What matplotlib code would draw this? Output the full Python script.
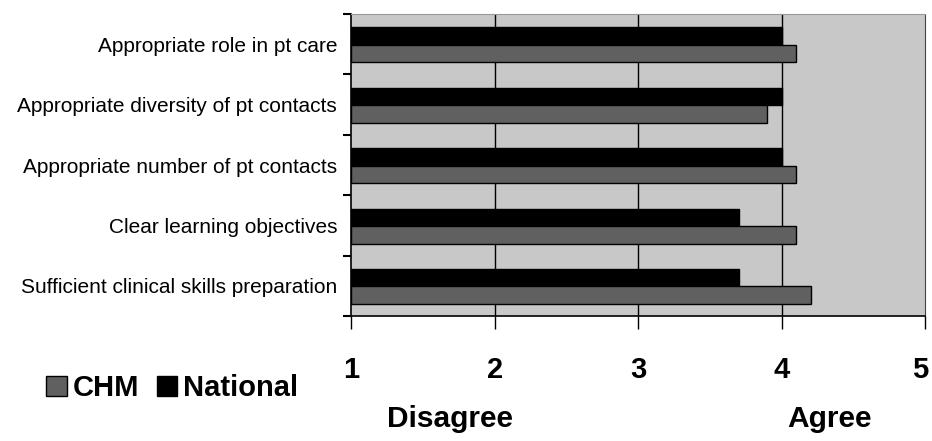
import matplotlib
matplotlib.use("Agg")
import matplotlib.pyplot as plt
import matplotlib.transforms as mtransforms
from matplotlib.patches import Patch
import numpy as np

categories = [
    "Appropriate role in pt care",
    "Appropriate diversity of pt contacts",
    "Appropriate number of pt contacts",
    "Clear learning objectives",
    "Sufficient clinical skills preparation",
]
chm = [4.1, 3.9, 4.1, 4.1, 4.2]
national = [4.0, 4.0, 4.0, 3.7, 3.7]
xticks = [1, 2, 3, 4, 5]

fam = "Liberation Sans"
plt.rcParams['font.family'] = [fam, 'DejaVu Sans']

fig = plt.figure(figsize=(9.32, 4.41), dpi=100)
ax = fig.add_axes([0.3766, 0.2834, 0.6164, 0.6848])
ax.set_facecolor("#c8c8c8")

y = np.arange(len(categories))
h = 0.29
ax.barh(y - 0.135, [v - 1 for v in national], left=1, height=h, color="black",
        edgecolor="black", linewidth=1, zorder=3, label="National")
ax.barh(y + 0.155, [v - 1 for v in chm], left=1, height=h, color="#606060",
        edgecolor="black", linewidth=1, zorder=3, label="CHM")

ax.set_xlim(1, 5)
ax.set_ylim(len(categories) - 0.5, -0.5)
for xv in xticks[1:-1]:
    ax.axvline(xv, color="black", linewidth=1, zorder=1)

ax.set_xticks(xticks)
ax.set_xticklabels([str(v) for v in xticks], fontsize=21, fontweight="bold")
ax.tick_params(axis="x", length=9, width=1, pad=20, direction="out")
last = ax.get_xticklabels()[-1]
last.set_transform(last.get_transform() +
                   mtransforms.ScaledTranslation(-5 / 100, 0, fig.dpi_scale_trans))
ax.set_yticks(y)
ax.set_yticklabels(categories, fontsize=15)
ax.tick_params(axis="y", which="major", length=0, pad=10)
ax.set_yticks(np.arange(len(categories) + 1) - 0.5, minor=True)
ax.tick_params(axis="y", which="minor", length=6, width=1.5, direction="out")

for s in ["left", "bottom"]:
    ax.spines[s].set_color("black")
    ax.spines[s].set_linewidth(1.2)
ax.spines["top"].set_color("#999999")
ax.spines["right"].set_color("#444444")

handles = [Patch(facecolor="#606060", edgecolor="black", label="CHM"),
           Patch(facecolor="black", edgecolor="black", label="National")]
fig.legend(handles=handles, loc="center left", bbox_to_anchor=(0.0215, 0.12),
           ncol=2, frameon=False, handlelength=0.7, handleheight=0.7,
           handletextpad=0.2, columnspacing=0.6,
           prop={"size": 21, "weight": "bold", "family": [fam, "DejaVu Sans"]})

fig.text(450 / 932, 1 - 419 / 441, "Disagree", ha="center", va="center",
         fontsize=21.5, fontweight="bold")
fig.text(829 / 932, 1 - 419 / 441, "Agree", ha="center", va="center",
         fontsize=21.5, fontweight="bold")

fig.savefig("out.png", dpi=100)
